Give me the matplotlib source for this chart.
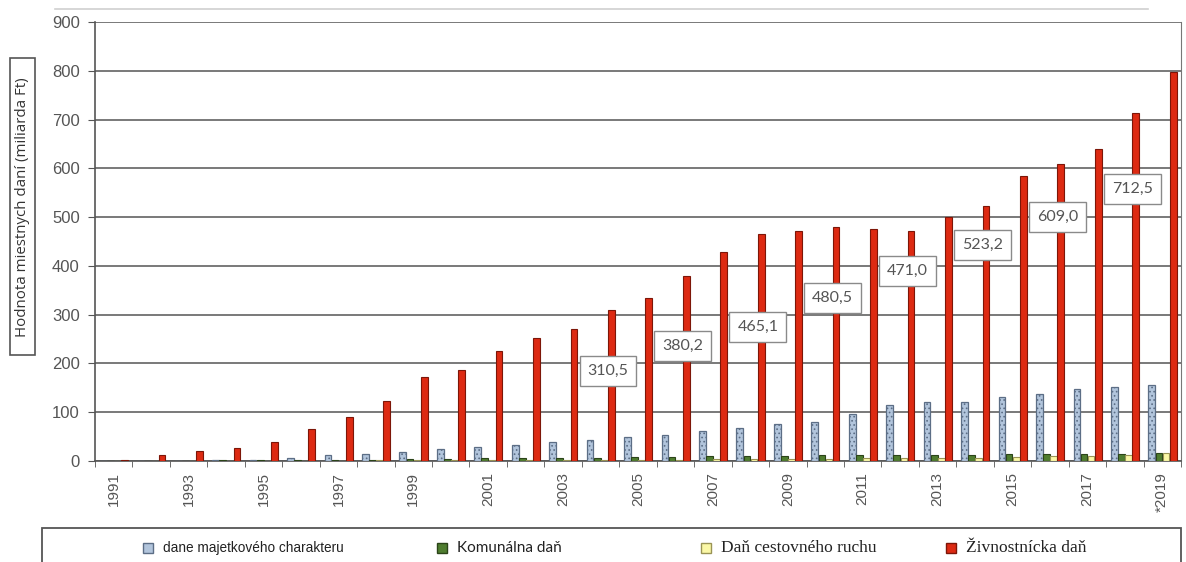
import matplotlib.pyplot as plt
from matplotlib.patches import Rectangle
from matplotlib.lines import Line2D
import numpy as np

# hodnoty miestnych daní v miliardách Ft, 1991 - 2019
years = list(range(1991, 2020))
year_labels = [str(y) for y in years[:-1]] + ['*2019']

majetkove = [1, 1, 1, 3, 3, 7, 12, 14, 19, 24, 29, 33, 39, 43, 49, 53, 61, 68,
             76, 80, 96, 114, 121, 121, 131, 138, 147, 151, 156]
komunalna = [1, 1, 1, 2, 2, 2, 3, 3, 4, 5, 6, 6, 7, 7, 8, 8, 10, 11,
             11, 12, 13, 13, 13, 13, 14, 15, 15, 15, 16]
cestovny = [0.5, 0.5, 0.5, 1, 1, 1, 1, 1.5, 1.5, 2, 2, 2, 3, 3, 3, 3, 4, 4,
            4, 5, 6, 6, 7, 7, 8, 10, 11, 13, 17]
zivnostnicka = [2, 13, 20, 27, 39, 65, 91, 124, 172, 186, 226, 252, 271, 310.5,
                334, 380.2, 428, 465.1, 472, 480.5, 475, 471.0, 501, 523.2,
                584, 609.0, 639, 712.5, 797]

labeled_years = [2004, 2006, 2008, 2010, 2012, 2014, 2016, 2018]

plt.rcParams['hatch.linewidth'] = 0.7

W, H = 1186, 562
fig = plt.figure(figsize=(W / 100, H / 100), dpi=100)
ax = fig.add_axes([95 / W, 1 - 461 / H, (1181 - 95) / W, (461 - 22) / H])

x = np.arange(len(years))
bw = 0.18
ax.bar(x - 0.28, majetkove, bw, color='#b2c5dc', edgecolor='#5c6e86',
       hatch='....', linewidth=0.9, zorder=3)
ax.bar(x - 0.09, komunalna, bw, color='#4f7d2f', edgecolor='#2b4419',
       linewidth=0.8, zorder=3)
ax.bar(x + 0.10, cestovny, bw, color='#fbf8a6', edgecolor='#9a9455',
       linewidth=0.8, zorder=3)
ax.bar(x + 0.29, zivnostnicka, bw, color='#dd2a12', edgecolor='#7d1608',
       linewidth=0.8, zorder=3)

# boxy s hodnotami živnostníckej dane
box_y = [184, 235, 275, 334, 389, 443, 500, 557]
for yr, by in zip(labeled_years, box_y):
    i = years.index(yr)
    val = zivnostnicka[i]
    ax.text(i + 0.2, by, f'{val:.1f}'.replace('.', ','), ha='center', va='center',
            fontsize=11.5, color='#555555', family='Lato', zorder=5,
            bbox=dict(boxstyle='square,pad=0.5', fc='white', ec='#8a8a8a', lw=1))

ax.set_xlim(-0.5, len(years) - 0.5)
ax.set_ylim(0, 900)
ax.set_yticks(range(0, 901, 100))
ax.yaxis.grid(True, color='#6e6e6e', linewidth=1.3)
ax.set_axisbelow(True)

ax.set_xticks(x[::2])
ax.set_xticklabels(year_labels[::2], rotation=90, fontsize=11,
                   color='#555555', family='Liberation Sans')
ax.set_xticks(np.arange(-0.5, len(years), 1), minor=True)
ax.tick_params(axis='x', which='major', length=0, pad=8)
ax.tick_params(axis='x', which='minor', length=4, color='#555555')
ax.tick_params(axis='y', length=5, color='#555555', labelsize=12,
               labelcolor='#555555', pad=6)
for lbl in ax.get_yticklabels():
    lbl.set_family('Liberation Sans')

ax.spines['top'].set_visible(False)
ax.spines['left'].set_color('#555555')
ax.spines['bottom'].set_color('#555555')
ax.spines['right'].set_color('#777777')
ax.spines['left'].set_linewidth(1.2)
ax.spines['bottom'].set_linewidth(1.2)

# popis osi y v rámčeku
fig.add_artist(Rectangle((10 / W, 1 - 355 / H), 25 / W, 297 / H,
                         transform=fig.transFigure, fc='white', ec='#555555', lw=1.2))
fig.text(23 / W, 1 - 207 / H, 'Hodnota miestnych daní (miliarda Ft)', rotation=90,
         ha='center', va='center', fontsize=10.8, color='#333333', family='Open Sans')

# tenká čiara nad grafom
fig.add_artist(Line2D([55 / W, 1148 / W], [1 - 9 / H, 1 - 9 / H],
                      color='#d0d0d0', lw=1.2, transform=fig.transFigure))

# legenda
fig.add_artist(Rectangle((42 / W, -0.05), (1181 - 42) / W, (562 - 528) / H + 0.05,
                         transform=fig.transFigure, fill=False, ec='#555555', lw=1.3))
ly = 1 - 548 / H
items = [
    (148, '#b2c5dc', '#5c6e86', 'dane majetkového charakteru', 'Liberation Sans', 9.8),
    (442, '#4f7d2f', '#2b4419', 'Komunálna daň', 'Lato', 11),
    (706, '#fbf8a6', '#9a9455', 'Daň cestovného ruchu', 'Liberation Serif', 12.5),
    (951, '#dd2a12', '#7d1608', 'Živnostnícka daň', 'Liberation Serif', 12.5),
]
for px, fc, ec, txt, fam, fs in items:
    fig.add_artist(Line2D([px / W], [ly], marker='s', ms=7, mfc=fc, mec=ec, mew=1,
                          transform=fig.transFigure))
    fig.text((px + 15) / W, ly, txt, ha='left', va='center', fontsize=fs,
             color='#222222', family=fam)

fig.savefig('out.png', dpi=100)
